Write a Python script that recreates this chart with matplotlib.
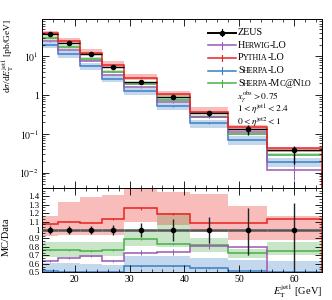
import numpy as np
import matplotlib
matplotlib.use("Agg")
import matplotlib.pyplot as plt
from matplotlib.ticker import MultipleLocator, FixedLocator, LogLocator, NullFormatter, FuncFormatter, AutoMinorLocator

plt.rcParams["font.family"] = ["Liberation Serif", "DejaVu Serif"]
plt.rcParams["mathtext.fontset"] = "stix"

# E_T^jet1 bin edges [GeV]
edges = [14, 17, 21, 25, 29, 35, 41, 48, 55, 65]

# ZEUS data [pb/GeV]
zeus = [38.4, 22.5, 11.3, 5.3, 2.2, 0.89, 0.34, 0.136, 0.038]
zeus_err_lo = [1.9, 1.1, 0.57, 0.32, 0.18, 0.115, 0.054, 0.040, 0.021]
zeus_err_hi = [1.9, 1.1, 0.57, 0.32, 0.18, 0.115, 0.054, 0.036, 0.012]

# MC predictions
herwig = [24.3, 15.0, 7.8, 3.36, 1.61, 0.655, 0.277, 0.109, 0.0114]
herwig_err_lo = [0.4, 0.3, 0.16, 0.07, 0.06, 0.03, 0.014, 0.006, 0.005]
herwig_err_hi = [0.4, 0.3, 0.16, 0.07, 0.06, 0.03, 0.014, 0.006, 0.021]

pythia = [41.0, 24.7, 12.3, 5.99, 2.76, 1.06, 0.367, 0.148, 0.043]
pythia_lo = [35.7, 21.2, 10.6, 4.98, 2.42, 0.943, 0.333, 0.120, 0.0334]
pythia_hi = [44.9, 30.0, 15.7, 7.49, 3.41, 1.29, 0.483, 0.174, 0.0441]
pythia_err = [0.3, 0.2, 0.1, 0.05, 0.03, 0.012, 0.005, 0.003, 0.001]

sherpa = [19.8, 11.4, 5.65, 2.65, 1.265, 0.512, 0.186, 0.070, 0.019]
sherpa_lo = [16.1, 9.0, 4.52, 2.17, 1.0, 0.404, 0.144, 0.0524, 0.0139]
sherpa_hi = [23.4, 13.7, 6.78, 3.11, 1.53, 0.619, 0.228, 0.0877, 0.0241]
sherpa_err = [0.2, 0.12, 0.06, 0.03, 0.015, 0.007, 0.003, 0.0015, 0.0005]

mcnlo = [29.2, 17.1, 8.5, 4.05, 1.96, 0.739, 0.280, 0.0986, 0.0286]
mcnlo_lo = [26.3, 15.4, 7.68, 3.66, 1.78, 0.712, 0.252, 0.0911, 0.0266]
mcnlo_hi = [33.1, 19.4, 9.66, 4.56, 2.18, 1.068, 0.306, 0.106, 0.0325]
mcnlo_err = [0.25, 0.15, 0.08, 0.04, 0.02, 0.009, 0.004, 0.002, 0.0006]

c_herwig = "#9b59b6"
c_pythia = "#e8231f"
c_sherpa = "#3b7fc4"
c_mcnlo = "#4aaf47"

edges = np.array(edges, dtype=float)
centers = 0.5 * (edges[:-1] + edges[1:])
halfw = 0.5 * (edges[1:] - edges[:-1])
data = np.array(zeus)


def px(x, y):
    return x / 332.0, 1.0 - y / 300.0


fig = plt.figure(figsize=(3.32, 3.0), dpi=100)
ax = fig.add_axes([41.7 / 332, 1 - 187.7 / 300, 280 / 332, 168.7 / 300])
rax = fig.add_axes([41.7 / 332, 1 - 272.3 / 300, 280 / 332, 84.6 / 300], sharex=ax)

# ---- main panel
bands = [(sherpa_lo, sherpa_hi, c_sherpa), (mcnlo_lo, mcnlo_hi, c_mcnlo),
         (pythia_lo, pythia_hi, c_pythia)]
for lo, hi, c in bands:
    ax.stairs(hi, edges, baseline=lo, fill=True, color=c, alpha=0.3, lw=0)

lines = [(sherpa, [sherpa_err, sherpa_err], c_sherpa),
         (mcnlo, [mcnlo_err, mcnlo_err], c_mcnlo),
         (herwig, [herwig_err_lo, herwig_err_hi], c_herwig),
         (pythia, [pythia_err, pythia_err], c_pythia)]
for vals, err, c in lines:
    ax.stairs(vals, edges, color=c, lw=1.1)
    ax.errorbar(centers, vals, yerr=err, fmt="none", ecolor=c, elinewidth=0.7)

ax.errorbar(centers, data, xerr=halfw, yerr=[zeus_err_lo, zeus_err_hi], fmt="o",
            color="k", ms=3, elinewidth=1.0, capsize=0, zorder=10)

ax.set_yscale("log")
ax.set_ylim(0.0041, 92)
ax.set_xlim(14, 65)
ax.yaxis.set_major_locator(LogLocator(base=10, numticks=10))
ax.yaxis.set_minor_locator(LogLocator(base=10, subs=np.arange(2, 10), numticks=20))
ax.yaxis.set_minor_formatter(NullFormatter())
ax.yaxis.set_major_formatter(FuncFormatter(
    lambda v, p: "1" if abs(v - 1) < 1e-9 else r"$10^{%d}$" % round(np.log10(v))))
ax.set_ylabel(r"d$\sigma$/d$E_{\rm T}^{\rm jet1}$ [pb/GeV]", fontsize=6.8, loc="top")
ax.yaxis.set_label_coords(-0.09, 1.0)

# ---- ratio panel
for lo, hi, c in bands:
    rax.stairs(np.array(hi) / data, edges, baseline=np.array(lo) / data,
               fill=True, color=c, alpha=0.3, lw=0)
for vals, err, c in lines:
    r = np.array(vals) / data
    rax.stairs(r, edges, color=c, lw=1.1)
    rax.errorbar(centers, r, yerr=[np.array(err[0]) / data, np.array(err[1]) / data],
                 fmt="none", ecolor=c, elinewidth=0.7)

rax.errorbar(centers, data / data, xerr=halfw, fmt="none", ecolor="#555555",
             elinewidth=1.8, zorder=9)
rax.errorbar(centers, data / data,
             yerr=[np.array(zeus_err_lo) / data, np.array(zeus_err_hi) / data],
             fmt="o", color="k", ecolor="#222222", ms=3, elinewidth=1.0, capsize=0, zorder=10)

rax.set_ylim(0.5, 1.5)
rax.yaxis.set_major_locator(FixedLocator(np.round(np.arange(0.5, 1.45, 0.1), 1)))
rax.yaxis.set_major_formatter(FuncFormatter(lambda v, p: "%g" % round(v, 1)))
rax.yaxis.set_minor_locator(AutoMinorLocator(3))
rax.xaxis.set_major_locator(MultipleLocator(10))
rax.xaxis.set_minor_locator(MultipleLocator(2))
rax.set_ylabel("MC/Data", fontsize=7.5)
rax.yaxis.set_label_coords(-0.11, 0.42)
rax.set_xlabel(r"$E_{\rm T}^{\rm jet1}$ [GeV]", fontsize=7.5, ha="right", va="baseline")
rax.xaxis.set_label_coords(1.0, -0.27)

for a in (ax, rax):
    a.tick_params(which="both", direction="in", top=True, right=True, labelsize=7, pad=2)
    a.tick_params(which="major", length=5, width=0.6)
    a.tick_params(which="minor", length=2.5, width=0.5)
    for s in a.spines.values():
        s.set_linewidth(0.7)
ax.tick_params(labelbottom=False)
rax.tick_params(axis="y", labelsize=6.3, pad=1.5)

# ---- legend (drawn by hand for the small caps)
entries = [("ZEUS", "k", True), ("Herwig-LO", c_herwig, False),
           ("Pythia-LO", c_pythia, False), ("Sherpa-LO", c_sherpa, False),
           ("Sherpa-Mc@Nlo", c_mcnlo, False)]
row_y = [32.5, 45.2, 58.0, 70.7, 83.3]


def runs_of(s):
    out = []
    for ch in s:
        small = ch.islower()
        if out and out[-1][1] == small:
            out[-1][0] += ch.upper()
        else:
            out.append([ch.upper(), small])
    return out


for (label, c, is_data), yy in zip(entries, row_y):
    x0, y0 = px(208, yy)
    x1, _ = px(236, yy)
    xm, _ = px(222, yy)
    _, yb0 = px(0, yy - 3.3)
    _, yb1 = px(0, yy + 3.3)
    lw = 1.4 if is_data else 1.1
    fig.add_artist(plt.Line2D([x0, x1], [y0, y0], color=c, lw=lw))
    fig.add_artist(plt.Line2D([xm, xm], [yb0, yb1], color=c, lw=0.8))
    if is_data:
        fig.add_artist(plt.Line2D([xm], [y0], marker="o", ms=3, color="k"))
    tx, ty = px(238, yy)
    prev = None
    for text, small in runs_of(label):
        fs = 5.8 if small else 7.3
        if prev is None:
            prev = fig.text(tx, ty, text, fontsize=fs, va="center", ha="left")
        else:
            prev = ax.annotate(text, xy=(1, 0), xycoords=prev, xytext=(-0.4, 0),
                               textcoords="offset points", fontsize=fs,
                               va="bottom", ha="left", annotation_clip=False)

cuts = [r"$x_{\gamma}^{\rm obs} > 0.75$", r"$1 < \eta^{\rm jet1} < 2.4$",
        r"$0 < \eta^{\rm jet2} < 1$"]
for txt, yy in zip(cuts, [97.0, 110.0, 122.5]):
    tx, ty = px(237, yy)
    fig.text(tx, ty, txt, fontsize=6.8, va="center", ha="left")

fig.savefig("out.png", dpi=100)
plt.close(fig)
